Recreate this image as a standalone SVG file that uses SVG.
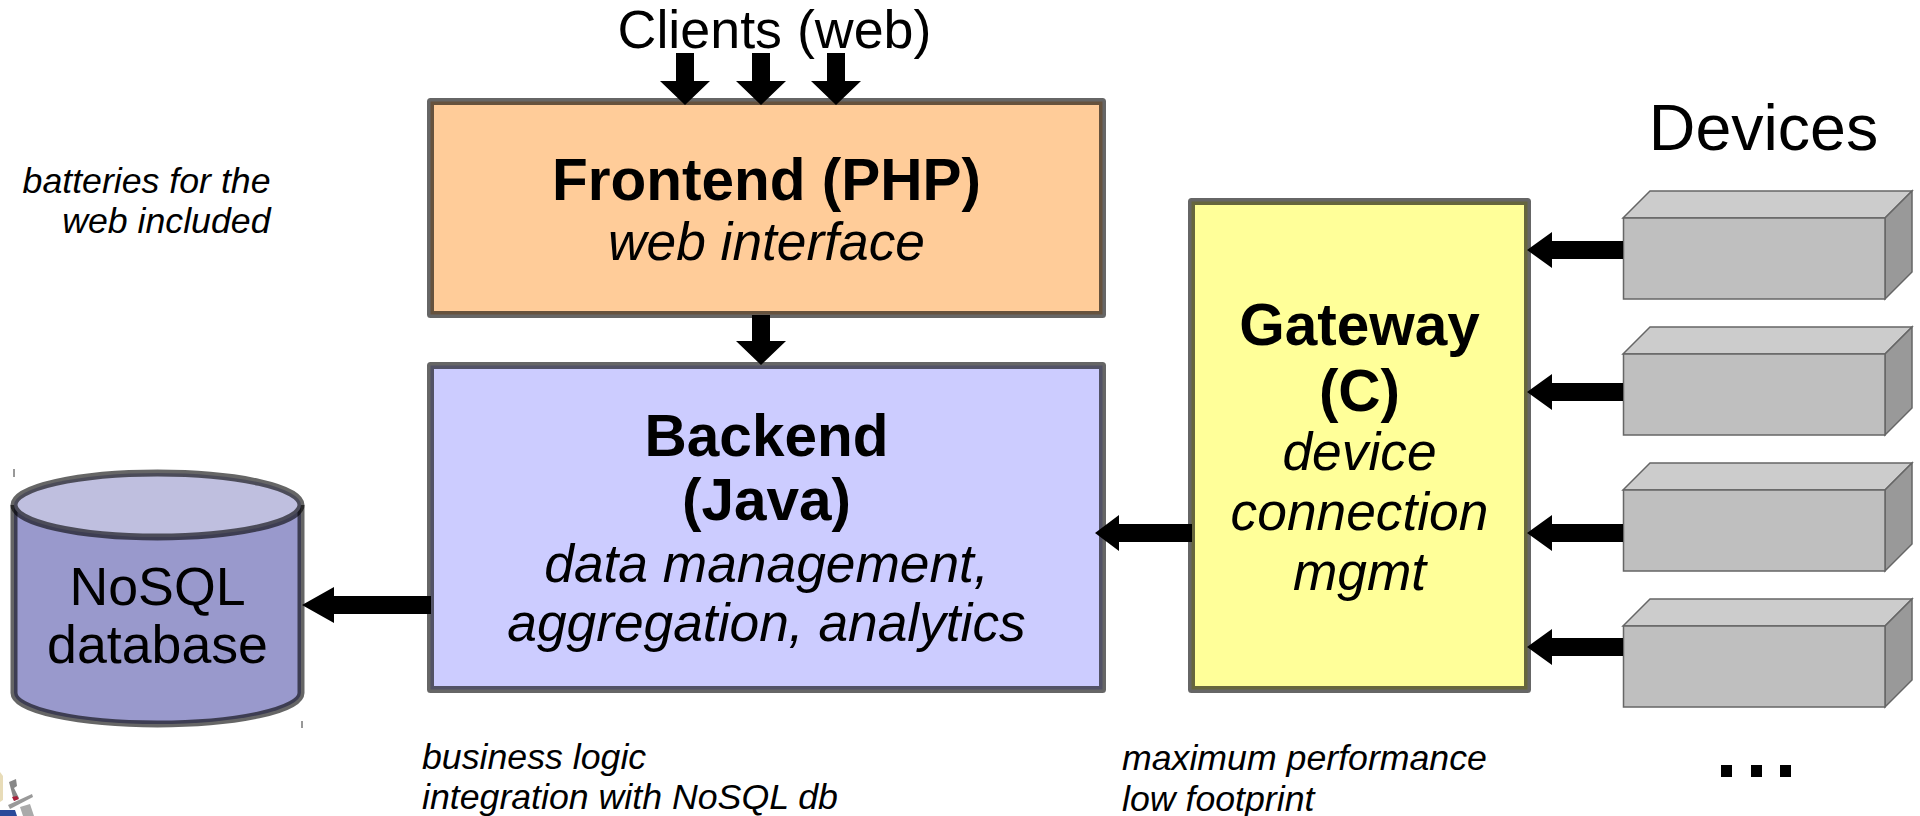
<svg xmlns="http://www.w3.org/2000/svg" width="1920" height="816" viewBox="0 0 1920 816">
<style>
text{font-family:"Liberation Sans",Arial,sans-serif;fill:#000}
.m{text-anchor:middle}
.e{text-anchor:end}
.t{font-size:58.500px;font-weight:bold}
.s{font-size:53.300px;font-style:italic}
.n{font-size:35.700px;font-style:italic}
.l{font-size:53.700px}
.box{stroke:#000;stroke-opacity:.6;stroke-width:7;stroke-linejoin:round}
.top{fill:#ccc;stroke:#666;stroke-width:1.5}
.front{fill:#bfbfbf;stroke:#666;stroke-width:1.5}
.side{fill:#999;stroke:#666;stroke-width:1.5}
.tick{stroke:#333;stroke-width:1}
</style>
<g id="frontend"><rect class="box" x="430.500" y="101.500" width="672" height="213" fill="#ffcc99"/>
<text class="t m" x="766.500" y="200">Frontend (PHP)</text><text class="s m" x="766.500" y="260">web interface</text></g>
<g id="backend"><rect class="box" x="430.500" y="365.500" width="672" height="324" fill="#ccccff"/>
<text class="t m" x="766.500" y="456">Backend</text><text class="t m" x="766.500" y="520">(Java)</text>
<text class="s m" x="766.500" y="582">data management,</text><text class="s m" x="766.500" y="641">aggregation, analytics</text></g>
<g id="gateway"><rect class="box" x="1191.500" y="201.500" width="336" height="488" fill="#ffff99"/>
<text class="t m" x="1359.500" y="345">Gateway</text><text class="t m" x="1359.500" y="411">(C)</text>
<text class="s m" x="1359.500" y="470">device</text><text class="s m" x="1359.500" y="530">connection</text><text class="s m" x="1359.500" y="590">mgmt</text></g>
<g id="database">
<path d="M14 505V693A143.500 31 0 0 0 301 693V505" fill="#9999cc" class="box"/>
<ellipse cx="157.500" cy="505" rx="143.500" ry="32" fill="#bfbfdf" class="box"/>
<text class="l m" x="157.500" y="605">NoSQL</text><text class="l m" x="157.500" y="663">database</text>
<path class="tick" d="M14 469v8M302 721v7"/></g>
<g id="device1"><path class="top" d="M1623 218l27-27h262l-27 27z"/><path class="side" d="M1885 218l27-27v81l-27 27z"/><rect class="front" x="1623.500" y="218" width="261.500" height="81"/></g>
<g id="device2"><path class="top" d="M1623 354l27-27h262l-27 27z"/><path class="side" d="M1885 354l27-27v81l-27 27z"/><rect class="front" x="1623.500" y="354" width="261.500" height="81"/></g>
<g id="device3"><path class="top" d="M1623 490l27-27h262l-27 27z"/><path class="side" d="M1885 490l27-27v81l-27 27z"/><rect class="front" x="1623.500" y="490" width="261.500" height="81"/></g>
<g id="device4"><path class="top" d="M1623 626l27-27h262l-27 27z"/><path class="side" d="M1885 626l27-27v81l-27 27z"/><rect class="front" x="1623.500" y="626" width="261.500" height="81"/></g>
<g id="connectors">
<path id="c1" d="M676 53h18v28h16l-25 24-25-24h16z"/>
<path id="c2" d="M752 53h18v28h16l-25 24-25-24h16z"/>
<path id="c3" d="M827 53h18v28h16l-25 24-25-24h16z"/>
<path id="c4" d="M752 315h18v26h16l-25 24-25-24h16z"/>
<path id="c5" d="M431 596v18h-97v9l-32-18 32-18v9z"/>
<path id="c6" d="M1192 524v18h-73v9l-24-18 24-18v9z"/>
<path id="c7" d="M1623 241v18h-71v9l-25-18 25-18v9z"/>
<path id="c8" d="M1623 383v18h-71v9l-25-18 25-18v9z"/>
<path id="c9" d="M1623 524v18h-71v9l-25-18 25-18v9z"/>
<path id="c10" d="M1623 638v18h-71v9l-25-18 25-18v9z"/>
</g>
<text class="m" x="774.500" y="48" style="font-size:53.800px">Clients (web)</text>
<text class="m" x="1763.500" y="150" style="font-size:64.500px">Devices</text>
<text class="n e" x="270.500" y="193">batteries for the</text><text class="n e" x="270.500" y="233">web included</text>
<text class="n" x="422" y="769">business logic</text><text class="n" x="422" y="809">integration with NoSQL db</text>
<text class="n" x="1122" y="770">maximum performance</text><text class="n" x="1122" y="811">low footprint</text>
<g id="dots"><rect x="1721" y="765" width="11" height="12"/><rect x="1751" y="765" width="11" height="12"/><rect x="1780" y="765" width="11" height="12"/></g>
<g id="logo"><path d="M0 772L3 776V800L0 802z" fill="#e8dcb8"/><path d="M0 810H15L17 816H0z" fill="#2a4a9a"/><path d="M9 782L16 779L17 786L14 788L19 798L14 801z" fill="#888"/><path d="M12 797L17 796L19 799L14 801z" fill="#a8203a"/><path d="M8 805L32 794L33 797L10 809z" fill="#999"/><path d="M20 807L30 804L34 816H23z" fill="#aaa"/></g>
</svg>
